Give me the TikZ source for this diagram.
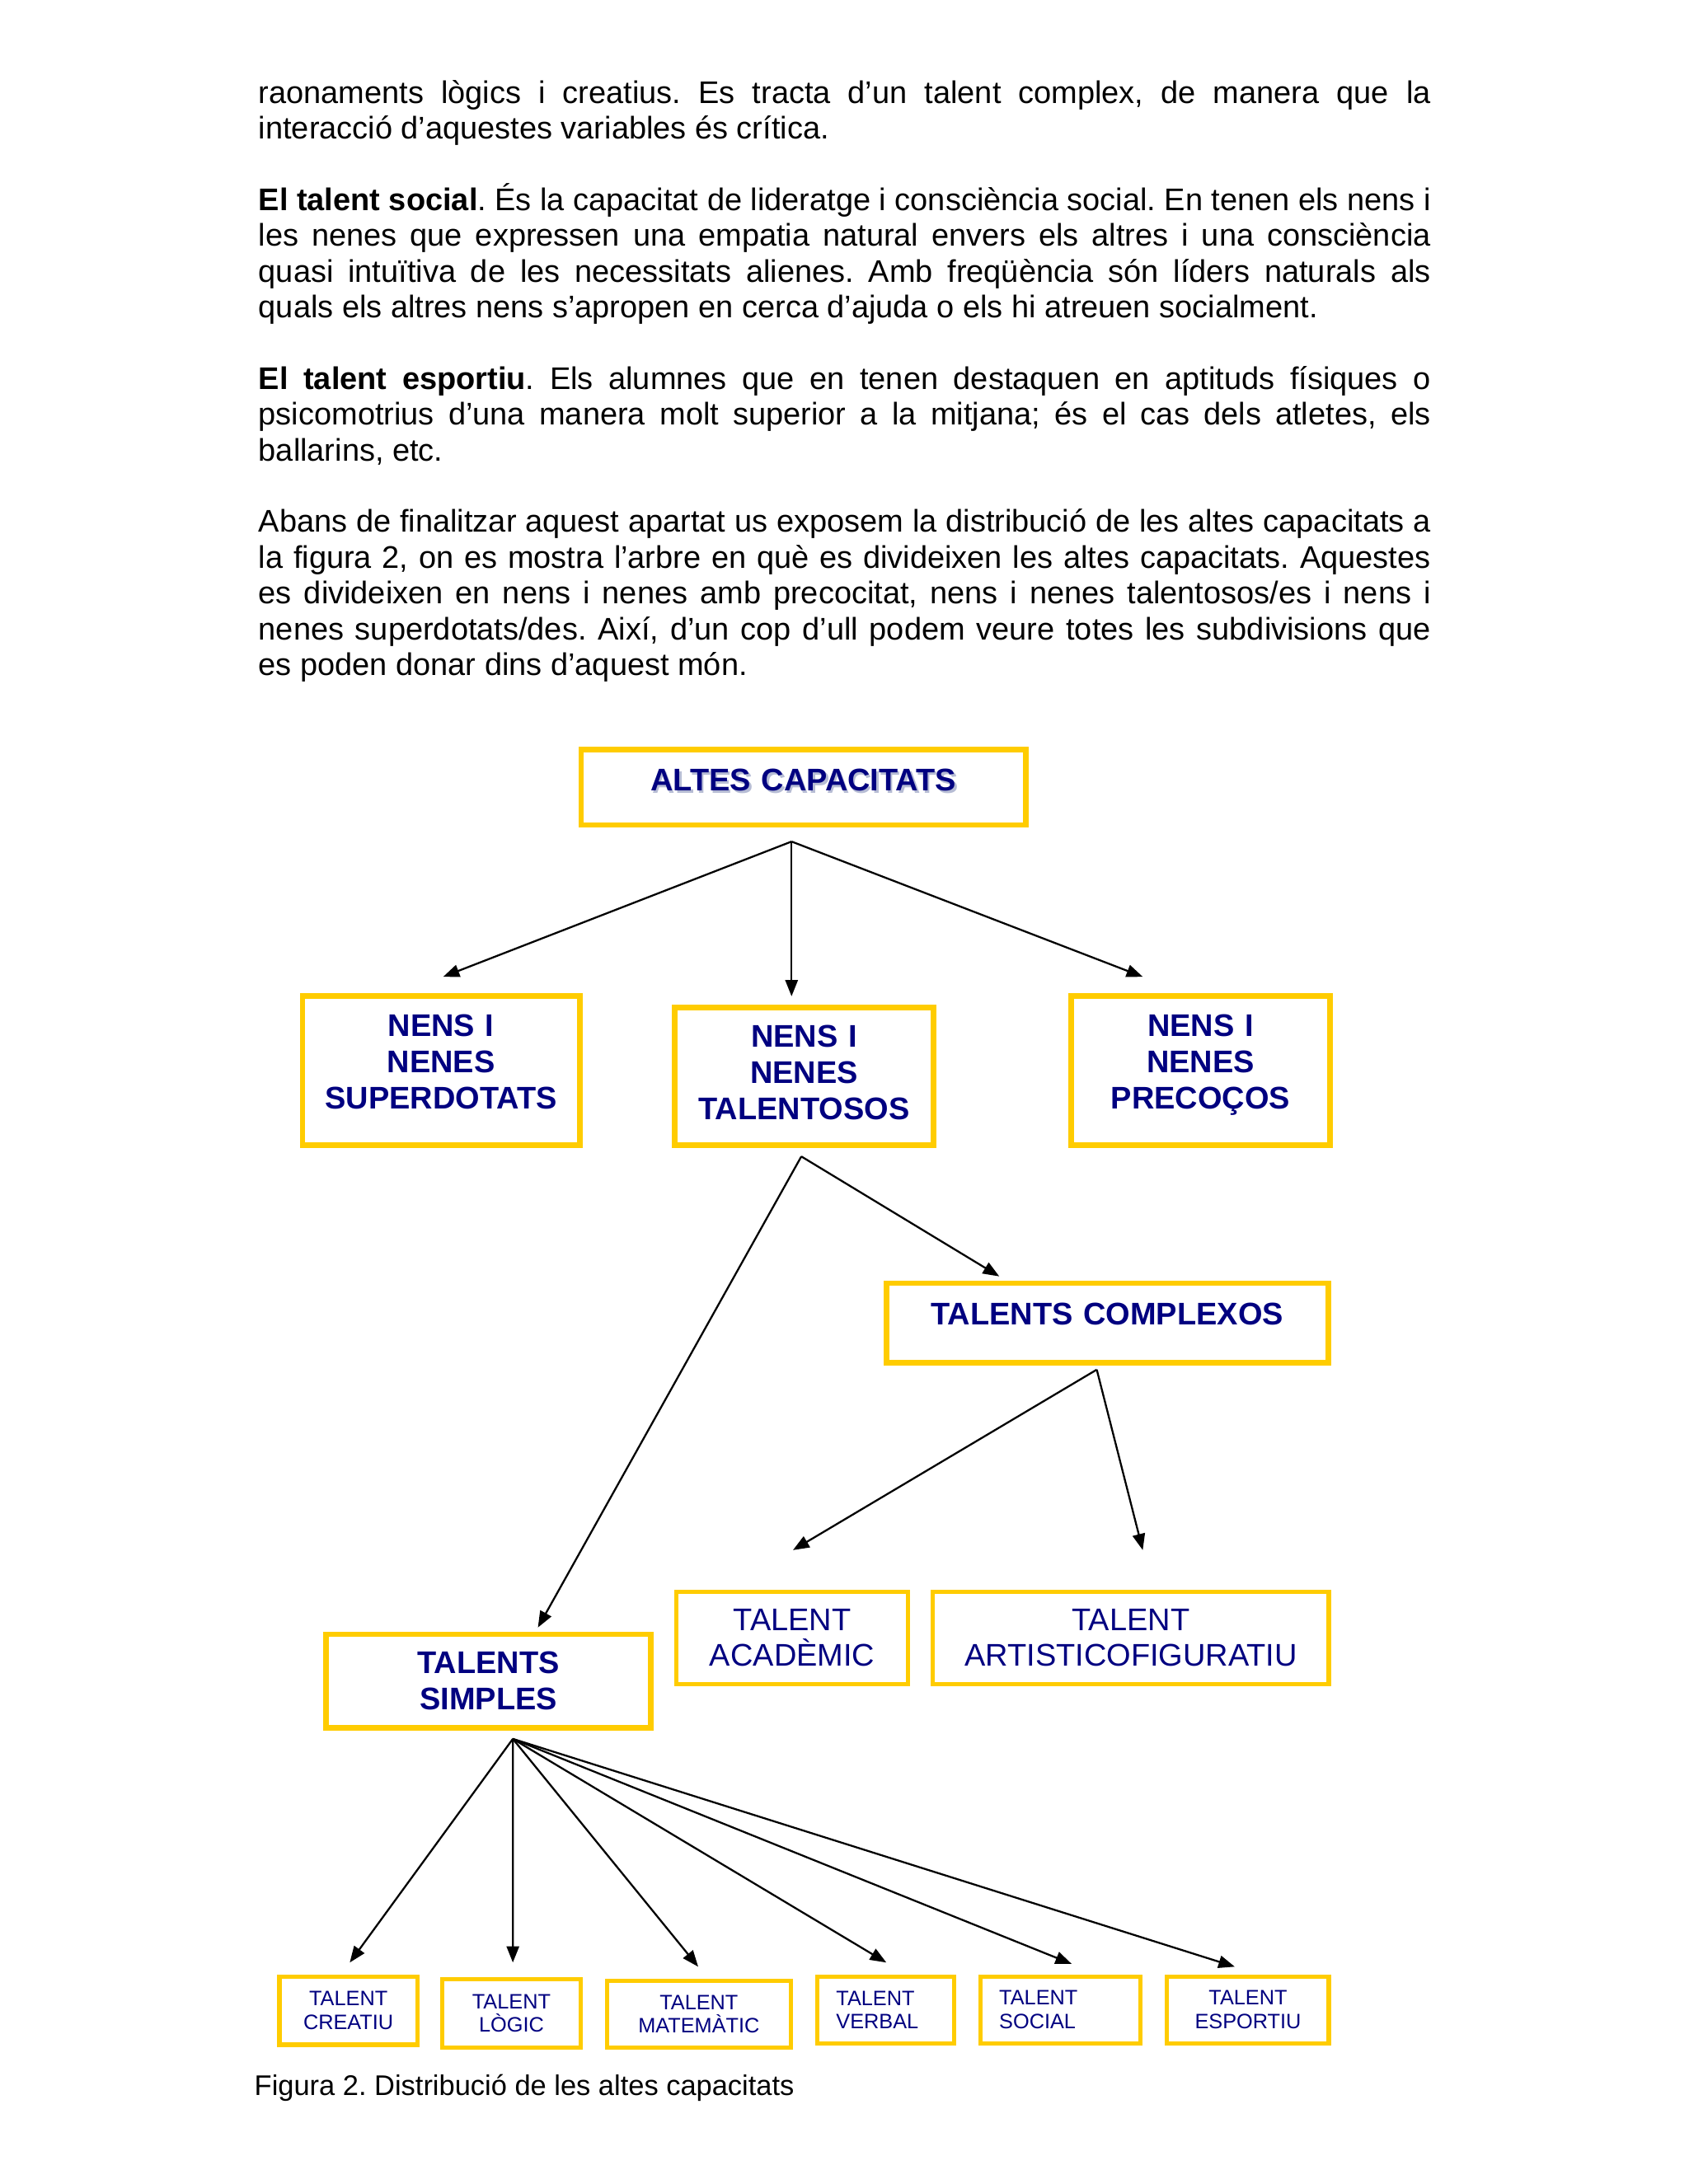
\documentclass[tikz,border=0pt]{standalone}
\usepackage{fontspec}
\setmainfont{Liberation Sans}
\usepackage{xcolor}
\usepackage{tikz}
\usetikzlibrary{calc, arrows.meta}

\definecolor{boxyellow}{RGB}{255,204,0}
\definecolor{navytext}{RGB}{0,0,128}
\definecolor{shadowblue}{RGB}{182,188,212}

\frenchspacing

\begin{document}
\begin{tikzpicture}[x=0.0169cm, y=-0.0169cm, >={Triangle[length=5.6pt, width=4.3pt]},
      arr/.style={->, line width=0.65pt},
      box/.style={draw=boxyellow, line width=1.9pt, text=navytext},
      thinbox/.style={draw=boxyellow, line width=1.45pt, text=navytext},
      boxsize/.style 2 args={minimum width=#1*0.0169cm, minimum height=#2*0.0169cm},
      titletext/.style={font=\fontsize{10.8pt}{12.5pt}\selectfont\bfseries, align=center},
      plaintext/.style={font=\fontsize{10.8pt}{12.3pt}\selectfont, align=center},
      smalltext/.style={font=\fontsize{7.2pt}{8.2pt}\selectfont, align=center}]

    \useasboundingbox (0,0) rectangle (20.48cm,-26.5cm);

    % running text above the figure
    \node[anchor=base west, inner sep=0pt, text width=14.22cm, align=justify,
          font=\fontsize{10.8pt}{12.35pt}\selectfont] (body) at (185.2,74) {%
      \noindent raonaments lògics i creatius. Es tracta d’un talent complex, de manera que la\linebreak
      interacció d’aquestes variables és crítica.\par\vspace{\baselineskip}
      \noindent\textbf{El talent social}. És la capacitat de lideratge i consciència social. En tenen els nens i\linebreak
      les nenes que expressen una empatia natural envers els altres i una consciència\linebreak
      quasi intuïtiva de les necessitats alienes. Amb freqüència són líders naturals als\linebreak
      quals els altres nens s’apropen en cerca d’ajuda o els hi atreuen socialment.\par\vspace{\baselineskip}
      \noindent\textbf{El talent esportiu}. Els alumnes que en tenen destaquen en aptituds físiques o\linebreak
      psicomotrius d’una manera molt superior a la mitjana; és el cas dels atletes, els\linebreak
      ballarins, etc.\par\vspace{\baselineskip}
      \noindent Abans de finalitzar aquest apartat us exposem la distribució de les altes capacitats a\linebreak
      la figura 2, on es mostra l’arbre en què es divideixen les altes capacitats. Aquestes\linebreak
      es divideixen en nens i nenes amb precocitat, nens i nenes talentosos/es i nens i\linebreak
      nenes superdotats/des. Així, d’un cop d’ull podem veure totes les subdivisions que\linebreak
      es poden donar dins d’aquest món.};

    % tree
    \node[titletext, text=shadowblue, text width=4cm] (topshadow) at (578,561.5) {ALTES CAPACITATS};
    \node[box, titletext, boxsize={319}{54}, text width=4cm] (top) at (576.5,565) {ALTES CAPACITATS\par\vspace{4.8pt}};

    \node[box, titletext, boxsize={199}{107}, text width=2.9cm] (sup) at (316.5,768.5) {NENS I\\NENES\\SUPERDOTATS\par\vspace{6.3pt}};
    \node[box, titletext, boxsize={182}{99}, text width=2.9cm] (tal) at (577,772.5) {NENS I\\NENES\\TALENTOSOS\par\vspace{2.4pt}};
    \node[box, titletext, boxsize={183}{107}, text width=2.9cm] (pre) at (861.5,768.5) {NENS I\\NENES\\PRECOÇOS\par\vspace{4pt}};

    \node[box, titletext, boxsize={317}{57}, text width=4.6cm] (comp) at (794.5,949.5) {TALENTS COMPLEXOS\par\vspace{6.3pt}};
    \node[thinbox, plaintext, boxsize={166}{66}] (acad) at (568.5,1175.5) {TALENT\\ACADÈMIC};
    \node[thinbox, plaintext, boxsize={284}{66}] (art) at (811.5,1175.5) {TALENT\\ARTISTICOFIGURATIU};

    \node[box, titletext, boxsize={233}{67}] (simp) at (350.5,1206.5) {TALENTS\\SIMPLES};

    \node[thinbox, smalltext, boxsize={99}{49}] (creatiu) at (250,1443) {TALENT\\CREATIU};
    \node[thinbox, smalltext, boxsize={99}{49}] (logic) at (367,1445) {TALENT\\LÒGIC};
    \node[thinbox, smalltext, boxsize={132}{48}] (matem) at (501.5,1445.5) {TALENT\\MATEMÀTIC};
    \node[thinbox, smalltext, boxsize={98}{48}, align=left, text width=1.2cm] (verbal) at (635.5,1442.5) {TALENT\\VERBAL};
    \node[thinbox, smalltext, boxsize={115}{48}, align=left, text width=1.487cm] (social) at (761,1442.5) {TALENT\\SOCIAL};
    \node[thinbox, smalltext, boxsize={116}{48}] (esport) at (895.5,1442.5) {TALENT\\ESPORTIU};

    \node[anchor=base west, inner sep=0pt, font=\fontsize{9.8pt}{11pt}\selectfont] (caption) at (182.2,1504) {Figura 2. Distribució de les altes capacitats};

    % arrows
    \coordinate (topfork) at ($(top.south)+(-8.5,10)$);
    \draw[arr] (topfork) -- ($(sup.north)+(1.5,-12)$);
    \draw[arr] (topfork) -- ($(tal.north)+(-9,-6)$);
    \draw[arr] (topfork) -- ($(pre.north)+(-41.5,-12)$);

    \coordinate (talfork) at ($(tal.south)+(-2,6)$);
    \draw[arr] (talfork) -- ($(comp.north)+(-77.5,-3)$);
    \draw[arr] (talfork) -- ($(simp.north)+(35.5,-3)$);

    \coordinate (compfork) at ($(comp.south)+(-7.5,3)$);
    \draw[arr] (compfork) -- ($(acad.north)+(0.5,-28.5)$);
    \draw[arr] (compfork) -- ($(art.north)+(8.5,-28.5)$);

    \coordinate (simpfork) at ($(simp.south)+(17.5,6)$);
    \foreach \n/\dx/\dy in {creatiu/1/-8.5, logic/1/-10.5, matem/-0.5/-8.5,
                            verbal/0.5/-8.5, social/8/-7.5, esport/-9.5/-5.5}
      \draw[arr] (simpfork) -- ($(\n.north)+(\dx,\dy)$);
\end{tikzpicture}
\end{document}
